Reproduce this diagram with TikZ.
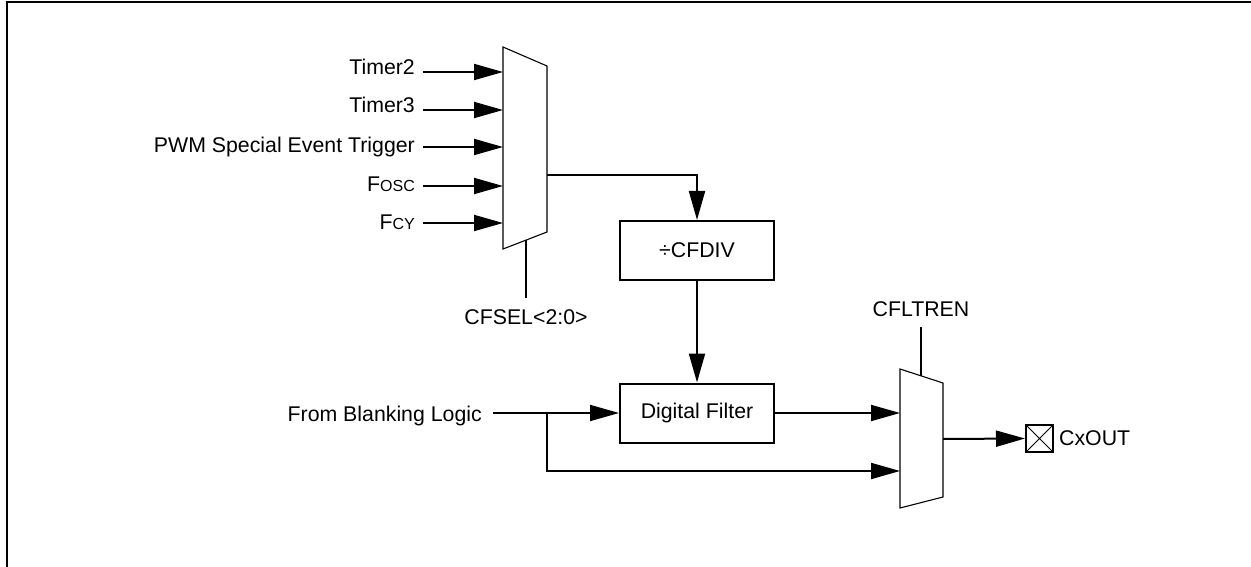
\documentclass[tikz,border=0pt]{standalone}
\usepackage{fontspec}
\setmainfont{Liberation Sans}
\usetikzlibrary{arrows.meta}
\newcommand\smallcap[1]{{\fontsize{16}{18}\selectfont #1}}
\begin{document}
\begin{tikzpicture}[x=1pt,y=-1pt,
  wire/.style={line width=2pt},
  sig/.style={wire,-{Triangle[length=29pt,width=16pt]}},
  muxshape/.style={line width=1.1pt, line join=miter},
  lbl/.style={inner sep=0pt, font=\fontsize{21.3}{24}\selectfont},
  blk/.style={draw, line width=2pt, minimum width=154pt, minimum height=59pt, inner sep=0pt, font=\fontsize{21.3}{24}\selectfont},
  pinbox/.style={draw, line width=2pt, minimum size=27pt, inner sep=0pt,
    path picture={\draw[line width=1pt] (path picture bounding box.north west) -- (path picture bounding box.south east)
      (path picture bounding box.north east) -- (path picture bounding box.south west);}}
]
\useasboundingbox (0,0) rectangle (1251,567);
% frame
\draw[line width=2pt] (6.7,567) -- (6.7,2) -- (1251,2);

% first multiplexer
\draw[muxshape] (503,47) -- (547,66) -- (547,232) -- (503,249) -- cycle;
\coordinate (i1) at (503,72);
\coordinate (i2) at (503,110);
\coordinate (i3) at (503,147);
\coordinate (i4) at (503,186);
\coordinate (i5) at (503,223);
\coordinate (s1) at (423,72);
\coordinate (s2) at (423,110);
\coordinate (s3) at (423,147);
\coordinate (s4) at (423,186);
\coordinate (s5) at (423,223);
\node[lbl, anchor=base east] (t2) at (415,74.5) {Timer2};
\node[lbl, anchor=base east] (t3) at (415,112.5) {Timer3};
\node[lbl, anchor=base east] (pwm) at (415,152.5) {PWM Special Event Trigger};
\node[lbl, anchor=base east] (fosc) at (415,191) {F\smallcap{OSC}};
\node[lbl, anchor=base east] (fcy) at (415,229.5) {F\smallcap{CY}};
\draw[sig] (s1) -- (i1);
\draw[sig] (s2) -- (i2);
\draw[sig] (s3) -- (i3);
\draw[sig] (s4) -- (i4);
\draw[sig] (s5) -- (i5);

\coordinate (m1o) at (547,175);
\coordinate (m1s) at (526,240);
\coordinate (cfs) at (526,298);
\draw[wire] (m1s) -- (cfs);
\node[lbl, anchor=base] (cfsel) at (526,324) {CFSEL<2:0>};

% blocks
\node[blk] (div) at (697,250.5) {÷CFDIV};
\node[blk] (df) at (697,413) {Digital Filter};
\draw[sig] (m1o) -| (div.north);
\draw[sig] (div) -- (df);

% blanking input
\node[lbl, anchor=base east] (fbl) at (482,421) {From Blanking Logic};
\coordinate (b0) at (493,413);
\coordinate (br) at (547,413);
\draw[sig] (b0) -- (df.west);

% second multiplexer
\draw[muxshape] (900,369) -- (943,383) -- (943,497) -- (900,508) -- cycle;
\coordinate (m2a) at (900,413);
\coordinate (m2b) at (900,471);
\coordinate (m2o) at (943,439);
\coordinate (m2s) at (921,376);
\coordinate (cfl) at (921,327);
\draw[sig] (df.east) -- (m2a);
\draw[sig] (br) |- (m2b);
\draw[wire] (cfl) -- (m2s);
\node[lbl, anchor=base] (cfltren) at (921,316) {CFLTREN};

% output pin
\node[pinbox] (pin) at (1039.5,438.5) {};
\draw[sig] (m2o) -- (pin.west);
\node[lbl, anchor=base west] (cxout) at (1059,445.5) {CxOUT};
\end{tikzpicture}
\end{document}
